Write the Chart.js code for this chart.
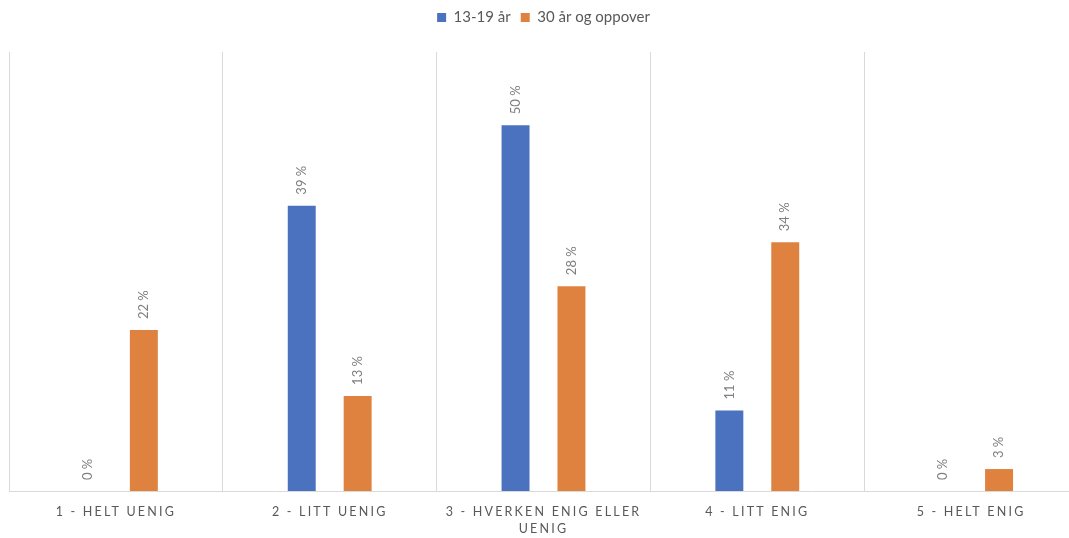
<!DOCTYPE html>
<html lang="no">
<head>
<meta charset="utf-8">
<title>Aldersgrupper – svarfordeling</title>
<script src="https://cdn.jsdelivr.net/npm/chart.js@4/dist/chart.umd.min.js"></script>
<style>
  html, body { margin: 0; padding: 0; background: #ffffff; overflow: hidden; }
  #wrap { width: 1090px; height: 538px; }
</style>
</head>
<body>
<div id="wrap"><canvas id="chart" width="1090" height="538"></canvas></div>
<script>
// Response categories (x axis) and the share answering each, in percent
const categories = [
  '1 - HELT UENIG',
  '2 - LITT UENIG',
  ['3 - HVERKEN ENIG ELLER', 'UENIG'],
  '4 - LITT ENIG',
  '5 - HELT ENIG'
];
const seriesNames = ['13-19 år', '30 år og oppover'];
const teens = [0, 39, 50, 11, 0];
const adults = [22, 13, 28, 34, 3];

const FONT = 'Lato, "Open Sans", "Liberation Sans", sans-serif';
const TEXT_GREY = '#595959';
const LABEL_GREY = '#7f7f7f';
const GRID_GREY = '#d9d9d9';

// Category axis whose tick labels are drawn letter-spaced
class SpacedCategoryScale extends Chart.CategoryScale {
  drawLabels(chartArea) {
    const ctx = this.ctx;
    ctx.save();
    ctx.letterSpacing = '2.2px';
    super.drawLabels(chartArea);
    ctx.restore();
  }
}
SpacedCategoryScale.id = 'spacedCategory';
SpacedCategoryScale.defaults = Chart.CategoryScale.defaults;
Chart.register(SpacedCategoryScale);

// Rotated "NN %" value labels above each bar
const valueLabels = {
  id: 'valueLabels',
  afterDatasetsDraw(chart) {
    const ctx = chart.ctx;
    ctx.save();
    ctx.font = '13px ' + FONT;
    ctx.fillStyle = LABEL_GREY;
    ctx.textAlign = 'left';
    ctx.textBaseline = 'middle';
    chart.data.datasets.forEach((ds, i) => {
      const meta = chart.getDatasetMeta(i);
      meta.data.forEach((bar, j) => {
        ctx.save();
        ctx.translate(bar.x, bar.y - 11);
        ctx.rotate(-Math.PI / 2);
        ctx.fillText(ds.data[j] + ' %', 0, 0);
        ctx.restore();
      });
    });
    ctx.restore();
  }
};

new Chart(document.getElementById('chart'), {
  type: 'bar',
  data: {
    labels: categories,
    datasets: [
      { label: seriesNames[0], data: teens, backgroundColor: '#4a72bf' },
      { label: seriesNames[1], data: adults, backgroundColor: '#e0823f' }
    ]
  },
  options: {
    responsive: false,
    animation: false,
    categoryPercentage: 0.523,
    barPercentage: 0.5,
    layout: { padding: { left: 9, right: 12, top: 0, bottom: 0 } },
    plugins: {
      legend: {
        position: 'top',
        labels: {
          boxWidth: 9,
          boxHeight: 9,
          padding: 10,
          color: TEXT_GREY,
          font: { family: FONT, size: 15 }
        }
      },
      // spacer between the legend and the plot area
      title: {
        display: true,
        text: '',
        weight: 500,
        font: { size: 10 },
        padding: { top: 0, bottom: 5 }
      },
      tooltip: { enabled: false }
    },
    scales: {
      x: {
        type: 'spacedCategory',
        afterFit(scale) { scale.height = 47; },
        grid: { color: GRID_GREY, lineWidth: 1, drawTicks: false, offset: true },
        border: { color: GRID_GREY, width: 1 },
        ticks: {
          color: TEXT_GREY,
          padding: 13,
          maxRotation: 0,
          autoSkip: false,
          font: { family: FONT, size: 12.5, lineHeight: 1.35 }
        }
      },
      y: {
        display: false,
        min: 0,
        max: 60
      }
    }
  },
  plugins: [valueLabels]
});
</script>
</body>
</html>
